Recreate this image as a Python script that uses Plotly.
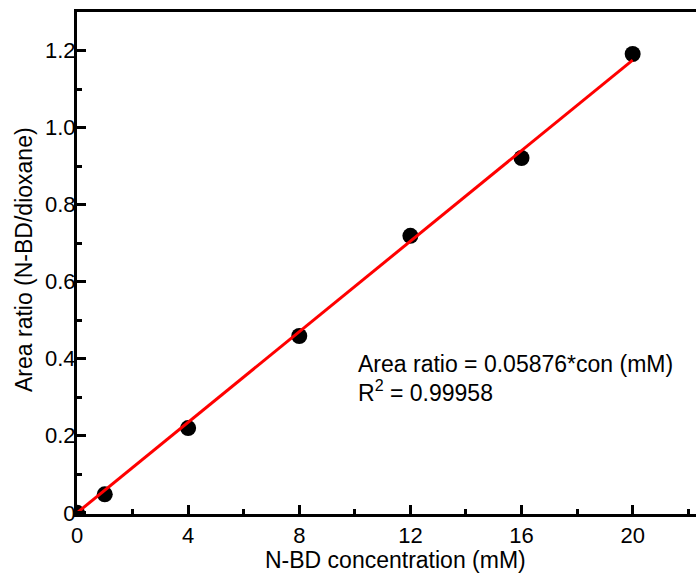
import plotly.graph_objects as go

# Data
conc = [0, 1, 4, 8, 12, 16, 20]
area_ratio = [0.0, 0.048, 0.220, 0.459, 0.719, 0.921, 1.191]
fit_x = [0, 20]
fit_y = [0.0, 1.1752]

x_tickvals = [0, 4, 8, 12, 16, 20]
x_ticktext = ["0", "4", "8", "12", "16", "20"]
y_tickvals = [0, 0.2, 0.4, 0.6, 0.8, 1.0, 1.2]
y_ticktext = ["0", "0.2", "0.4", "0.6", "0.8", "1.0", "1.2"]

FONT = "Arial, Liberation Sans, sans-serif"

fig = go.Figure()
fig.add_trace(go.Scatter(
    x=conc, y=area_ratio, mode="markers",
    marker=dict(color="black", size=16),
    showlegend=False,
))
fig.add_trace(go.Scatter(
    x=fit_x, y=fit_y, mode="lines",
    line=dict(color="#ff0000", width=3),
    showlegend=False,
))

W, H = 696, 581
L, R, T, B = 77, 0, 12, 67

axis_common = dict(
    showgrid=False, zeroline=False,
    showline=True, linecolor="black", linewidth=3,
    ticks="inside", ticklen=9, tickwidth=3, tickcolor="black",
    tickfont=dict(family=FONT, size=22, color="black"),
)

fig.update_xaxes(
    range=[0, 22.28], tickvals=x_tickvals, ticktext=x_ticktext,
    mirror=True, ticklabelstandoff=0,
    minor=dict(dtick=2, tick0=0, ticks="inside", ticklen=5, tickwidth=3, tickcolor="black"),
    **axis_common,
)
fig.update_yaxes(
    range=[-0.003, 1.3], tickvals=y_tickvals, ticktext=y_ticktext,
    mirror=False, ticklabelstandoff=-6,
    minor=dict(dtick=0.1, tick0=0, ticks="inside", ticklen=5, tickwidth=3, tickcolor="black"),
    **axis_common,
)

pw = W - L - R
ph = H - T - B

def px(xp):
    return (xp - L) / pw

def py(yp):
    return (H - B - yp) / ph

fig.update_layout(
    width=W, height=H,
    margin=dict(l=L, r=R, t=T, b=B),
    plot_bgcolor="white", paper_bgcolor="white",
    font=dict(family=FONT, color="black"),
    annotations=[
        dict(text="N-BD concentration (mM)", xref="paper", yref="paper",
             x=px(395.5), y=py(560), xanchor="center", yanchor="middle",
             showarrow=False, font=dict(family=FONT, size=23, color="black")),
        dict(text="Area ratio (N-BD/dioxane)", xref="paper", yref="paper",
             x=px(24), y=py(260), xanchor="center", yanchor="middle", textangle=-90,
             showarrow=False, font=dict(family=FONT, size=23, color="black")),
        dict(text="Area ratio = 0.05876*con (mM)", xref="paper", yref="paper",
             x=px(356), y=py(364), xanchor="left", yanchor="middle",
             showarrow=False, font=dict(family=FONT, size=23, color="black")),
        dict(text="R<sup>2</sup> = 0.99958", xref="paper", yref="paper",
             x=px(356), y=py(391), xanchor="left", yanchor="middle",
             showarrow=False, font=dict(family=FONT, size=23, color="black")),
    ],
)

fig.write_html("out.html")
